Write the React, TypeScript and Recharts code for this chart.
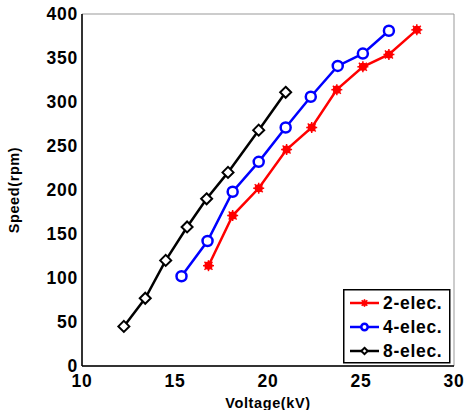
import React from 'react';
import { ScatterChart, Scatter, XAxis, YAxis, CartesianGrid, Legend } from 'recharts';

const voltage2 = [16.8, 18.1, 19.5, 21.0, 22.35, 23.7, 25.1, 26.5, 28.0];
const speed2 = [114, 171, 202, 246, 271, 314, 340, 354, 382];
const voltage4 = [15.35, 16.75, 18.1, 19.5, 20.95, 22.3, 23.75, 25.1, 26.5];
const speed4 = [102, 142, 198, 232, 271, 306, 341, 355, 381];
const voltage8 = [12.25, 13.4, 14.5, 15.65, 16.7, 17.85, 19.5, 20.95];
const speed8 = [45, 77, 120, 158, 190, 220, 268, 311];

const xTicks = [10, 15, 20, 25, 30];
const yTicks = [0, 50, 100, 150, 200, 250, 300, 350, 400];
const seriesNames = ['2-elec.', '4-elec.', '8-elec.'];
const seriesColors = ['#ff0000', '#0000ff', '#000000'];

const toPoints = (xs: number[], ys: number[]) => xs.map((x, i) => ({ x, y: ys[i] }));
const data2 = toPoints(voltage2, speed2);
const data4 = toPoints(voltage4, speed4);
const data8 = toPoints(voltage8, speed8);

const FONT = 'Arial, "Liberation Sans", sans-serif';

const Star = ({ cx, cy, r = 5, color = '#ff0000' }: any) => {
  if (cx == null || cy == null) return null;
  const d = r * 1.1;
  const e = r * 0.8;
  return (
    <g>
      <line x1={cx - d} y1={cy} x2={cx + d} y2={cy} stroke={color} strokeWidth={1.5} />
      <line x1={cx} y1={cy - d} x2={cx} y2={cy + d} stroke={color} strokeWidth={1.5} />
      <line x1={cx - e} y1={cy - e} x2={cx + e} y2={cy + e} stroke={color} strokeWidth={1.5} />
      <line x1={cx - e} y1={cy + e} x2={cx + e} y2={cy - e} stroke={color} strokeWidth={1.5} />
      <circle cx={cx} cy={cy} r={r * 0.82} fill={color} />
    </g>
  );
};

const Ring = ({ cx, cy, r = 5, color = '#0000ff' }: any) => {
  if (cx == null || cy == null) return null;
  return <circle cx={cx} cy={cy} r={r} fill="#ffffff" stroke={color} strokeWidth={2.5} />;
};

const Diamond = ({ cx, cy, r = 5.5, color = '#000000' }: any) => {
  if (cx == null || cy == null) return null;
  const pts = `${cx},${cy - r} ${cx + r},${cy} ${cx},${cy + r} ${cx - r},${cy}`;
  return <polygon points={pts} fill="#ffffff" stroke={color} strokeWidth={2} />;
};

const markers = [Star, Ring, Diamond];

const LegendBox = () => (
  <svg width={108} height={75} style={{ display: 'block' }}>
    <rect x={0.75} y={0.75} width={106} height={73} fill="#ffffff" stroke="#000000" strokeWidth={1.5} />
    {seriesNames.map((name, i) => {
      const cy = 14 + i * 24;
      const M = markers[i];
      return (
        <g key={name}>
          <line x1={7} y1={cy} x2={36} y2={cy} stroke={seriesColors[i]} strokeWidth={2.5} />
          <M cx={21.5} cy={cy} r={i === 0 ? 3.5 : 3.2} color={seriesColors[i]} />
          <text x={40} y={cy + 6} fontFamily={FONT} fontWeight="bold" fontSize={17.5} letterSpacing={0.7} fill="#000000">
            {name}
          </text>
        </g>
      );
    })}
  </svg>
);

const tickStyle = { fontFamily: FONT, fontWeight: 'bold' as const, fontSize: 17.5, fill: '#000000', letterSpacing: 0.8 };

export default function App() {
  return (
    <div style={{ position: 'absolute', left: 0, top: 0, width: 466, height: 410, background: '#ffffff' }}>
      <ScatterChart width={466} height={410} margin={{ top: 14, right: 12, bottom: 0, left: 0 }}>
        <CartesianGrid stroke="#999999" strokeWidth={1} />
        <XAxis
          xAxisId="b"
          dataKey="x"
          type="number"
          domain={[10, 30]}
          ticks={xTicks}
          height={44}
          tickSize={0}
          tickMargin={9}
          tick={tickStyle}
          axisLine={{ stroke: '#000000', strokeWidth: 1.5 }}
          tickLine={false}
          allowDataOverflow
          label={{
            value: 'Voltage(kV)',
            position: 'insideBottom',
            offset: 2,
            style: { fontFamily: FONT, fontWeight: 'bold', fontSize: 14.5, fill: '#000000', letterSpacing: 0.6 },
          }}
        />
        <XAxis
          xAxisId="t"
          dataKey="x"
          type="number"
          orientation="top"
          domain={[10, 30]}
          ticks={xTicks}
          height={0}
          tick={false}
          tickLine={false}
          axisLine={{ stroke: '#000000', strokeWidth: 1.5 }}
        />
        <YAxis
          yAxisId="l"
          dataKey="y"
          type="number"
          domain={[0, 400]}
          ticks={yTicks}
          width={82}
          tickSize={0}
          tickMargin={4}
          tick={tickStyle}
          axisLine={{ stroke: '#000000', strokeWidth: 1.5 }}
          tickLine={false}
          allowDataOverflow
          label={{
            value: 'Speed(rpm)',
            angle: -90,
            position: 'insideLeft',
            offset: 14,
            style: { fontFamily: FONT, fontWeight: 'bold', fontSize: 14.5, fill: '#000000', letterSpacing: 0.6, textAnchor: 'middle' },
          }}
        />
        <YAxis
          yAxisId="r"
          dataKey="y"
          type="number"
          orientation="right"
          domain={[0, 400]}
          ticks={yTicks}
          width={0}
          tick={false}
          tickLine={false}
          axisLine={{ stroke: '#000000', strokeWidth: 1.5 }}
        />
        <Legend
          layout="vertical"
          align="center"
          verticalAlign="middle"
          content={() => <LegendBox />}
          wrapperStyle={{ position: 'absolute', left: 343, top: 289, width: 108, height: 75 }}
        />
        <Scatter
          name={seriesNames[0]}
          data={data2}
          xAxisId="b"
          yAxisId="l"
          fill={seriesColors[0]}
          line={{ stroke: seriesColors[0], strokeWidth: 2.5 }}
          lineType="joint"
          shape={(p: any) => <Star cx={p.cx} cy={p.cy} r={5} color={seriesColors[0]} />}
          isAnimationActive={false}
        />
        <Scatter
          name={seriesNames[1]}
          data={data4}
          xAxisId="b"
          yAxisId="l"
          fill={seriesColors[1]}
          line={{ stroke: seriesColors[1], strokeWidth: 2.5 }}
          lineType="joint"
          shape={(p: any) => <Ring cx={p.cx} cy={p.cy} r={5} color={seriesColors[1]} />}
          isAnimationActive={false}
        />
        <Scatter
          name={seriesNames[2]}
          data={data8}
          xAxisId="b"
          yAxisId="l"
          fill={seriesColors[2]}
          line={{ stroke: seriesColors[2], strokeWidth: 2.5 }}
          lineType="joint"
          shape={(p: any) => <Diamond cx={p.cx} cy={p.cy} r={5.5} color={seriesColors[2]} />}
          isAnimationActive={false}
        />
      </ScatterChart>
    </div>
  );
}
